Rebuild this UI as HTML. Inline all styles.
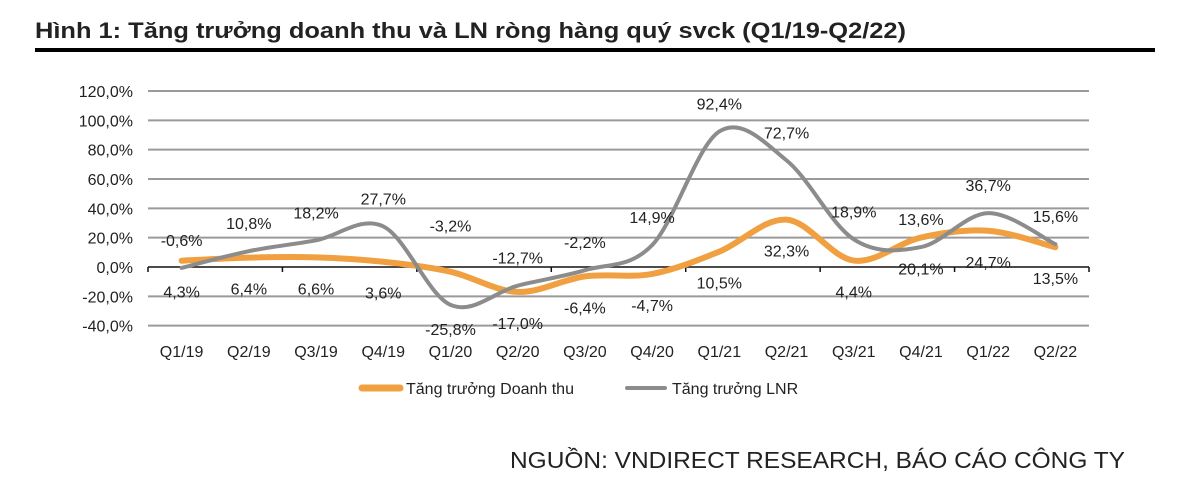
<!DOCTYPE html>
<html><head><meta charset="utf-8"><style>
body{margin:0;background:#fff}
svg{display:block;font-family:"Liberation Sans",Arial,sans-serif}
</style></head><body>
<svg width="1200" height="486" viewBox="0 0 1200 486">
<text x="35" y="38" font-size="22" font-weight="bold" fill="#222" textLength="871" lengthAdjust="spacingAndGlyphs">Hình 1: Tăng trưởng doanh thu và LN ròng hàng quý svck (Q1/19-Q2/22)</text>
<rect x="35" y="48" width="1120" height="4" fill="#000"/>
<g id="grid"></g>
<g id="axis"></g>
<g id="series"></g>
<g id="labels"></g>
<g>
<line x1="362" y1="388" x2="400" y2="388" stroke="#F0A040" stroke-width="7" stroke-linecap="round"/>
<text x="406" y="394" font-size="16" fill="#222">Tăng trưởng Doanh thu</text>
<line x1="627" y1="388" x2="665" y2="388" stroke="#8C8C8C" stroke-width="4" stroke-linecap="round"/>
<text x="672" y="394" font-size="16" fill="#222">Tăng trưởng LNR</text>
</g>
<text x="510" y="468" font-size="23" fill="#222" textLength="615" lengthAdjust="spacingAndGlyphs">NGUỒN: VNDIRECT RESEARCH, BÁO CÁO CÔNG TY</text>
</svg>
<script>
const categories=["Q1/19","Q2/19","Q3/19","Q4/19","Q1/20","Q2/20","Q3/20","Q4/20","Q1/21","Q2/21","Q3/21","Q4/21","Q1/22","Q2/22"];
const revenue=[4.3,6.4,6.6,3.6,-3.2,-17.0,-6.4,-4.7,10.5,32.3,4.4,20.1,24.7,13.5];
const lnr=[-0.6,10.8,18.2,27.7,-25.8,-12.7,-2.2,14.9,92.4,72.7,18.9,13.6,36.7,15.6];
const revenueLabelSide=["b","b","b","b","a","b","b","b","b","b","b","b","b","b"];
const lnrLabelSide=["a","a","a","a","b","a","a","a","a","a","a","a","a","a"];
const yTicks=[120,100,80,60,40,20,0,-20,-40];
const yTickLabels=["120,0%","100,0%","80,0%","60,0%","40,0%","20,0%","0,0%","-20,0%","-40,0%"];

const NS="http://www.w3.org/2000/svg";
const X0=148,X1=1089,Y0=267,PX=176/120;
const bw=(X1-X0)/categories.length;
const xs=i=>X0+bw*(i+0.5);
const ys=v=>Y0-v*PX;
const fmt=v=>v.toFixed(1).replace('.',',')+'%';
function mk(tag,attrs,parent){const e=document.createElementNS(NS,tag);for(const k in attrs)e.setAttribute(k,attrs[k]);parent.appendChild(e);return e;}
const grid=document.getElementById('grid'),axis=document.getElementById('axis'),series=document.getElementById('series'),labels=document.getElementById('labels');
yTicks.forEach((t,i)=>{
  if(t!==0){const l=mk('line',{x1:X0,x2:X1,y1:ys(t),y2:ys(t),stroke:'#9a9a9a','stroke-width':2},grid);
  
  }
  const tx=mk('text',{x:133,y:ys(t)+6,'font-size':16,fill:'#222','text-anchor':'end'},axis);
  tx.textContent=yTickLabels[i];
  
  
});
const zl=mk('line',{x1:X0,x2:X1,y1:Y0,y2:Y0,stroke:'#111','stroke-width':1.5},axis);


for(let i=0;i<=categories.length;i+=2){const t=mk('line',{x1:X0+bw*i,x2:X0+bw*i,y1:Y0,y2:Y0+5,stroke:'#111','stroke-width':1.5},axis);

}
categories.forEach((c,i)=>{const t=mk('text',{x:xs(i),y:357,'font-size':16,fill:'#222','text-anchor':'middle'},axis);
t.textContent=c;

});
function smooth(vals){const p=vals.map((v,i)=>[xs(i),ys(v)]);let d='M'+p[0][0]+','+p[0][1];
for(let i=0;i<p.length-1;i++){const a=p[i-1]||p[i],b=p[i],c=p[i+1],e=p[i+2]||c;
d+=' C'+(b[0]+(c[0]-a[0])/6)+','+(b[1]+(c[1]-a[1])/6)+' '+(c[0]-(e[0]-b[0])/6)+','+(c[1]-(e[1]-b[1])/6)+' '+c[0]+','+c[1];}return d;}
const pr=mk('path',{d:smooth(revenue),fill:'none',stroke:'#F0A040','stroke-width':6,'stroke-linecap':'round'},series);


const pl=mk('path',{d:smooth(lnr),fill:'none',stroke:'#8C8C8C','stroke-width':4,'stroke-linecap':'round'},series);


function addLabels(vals,side,name,above,below){vals.forEach((v,i)=>{let y=ys(v)+(side[i]==='a'?above:below);
const t=mk('text',{x:xs(i),y:y,'font-size':16,fill:'#222','text-anchor':'middle'},labels);
t.textContent=fmt(v);

});}
addLabels(revenue,revenueLabelSide,'revenue-value-label',-40,37);
addLabels(lnr,lnrLabelSide,'lnr-value-label',-22,30);
</script>
</body></html>
